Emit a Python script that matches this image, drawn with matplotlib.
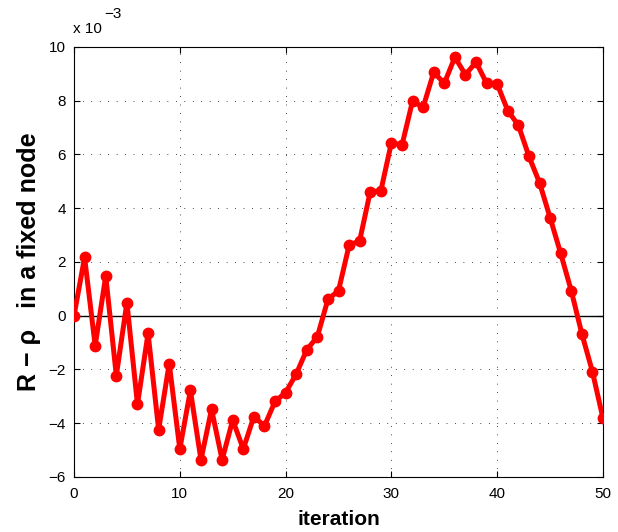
import matplotlib.pyplot as plt

# pyright: reportUnknownMemberType=false

plt.rcParams["font.family"] = ["Liberation Sans", "DejaVu Sans"]

# values in units of 1e-3
iteration = list(range(0, 51))
r_minus_rho = [
    0.0, 2.17, -1.11, 1.48, -2.23, 0.49, -3.30, -0.65, -4.24, -1.78,
    -4.96, -2.78, -5.36, -3.48, -5.36, -3.88, -4.96, -3.75, -4.10, -3.19,
    -2.86, -2.17, -1.27, -0.78, 0.61, 0.93, 2.62, 2.79, 4.62, 4.64,
    6.44, 6.35, 7.99, 7.76, 9.06, 8.65, 9.62, 8.97, 9.44, 8.65,
    8.62, 7.63, 7.09, 5.93, 4.95, 3.65, 2.32, 0.93, -0.67, -2.08,
    -3.82,
]
x_ticks = [0, 10, 20, 30, 40, 50]
y_ticks = [-6, -4, -2, 0, 2, 4, 6, 8, 10]

fig = plt.figure(figsize=(6.18, 5.32), dpi=100)
ax = fig.add_axes((74 / 618, 1 - 477 / 532, 529 / 618, 430 / 532))

ax.axhline(0, color="black", linewidth=1.0, zorder=2)
ax.plot(
    iteration,
    r_minus_rho,
    color="#ff0000",
    linewidth=3.6,
    marker="o",
    markersize=7.5,
    zorder=3,
)

ax.set_xlim(0, 50)
ax.set_ylim(-6, 10)
ax.set_xticks(x_ticks)
ax.set_yticks(y_ticks)
ax.tick_params(direction="in", top=True, right=True, labelsize=11, length=4, width=0.8)
ax.tick_params(axis="x", pad=7)
ax.tick_params(axis="y", pad=6)
ax.grid(True, color="black", linestyle=(0, (0.7, 8)), linewidth=0.7)
for spine in ax.spines.values():
    spine.set_linewidth(0.8)

ax.set_xlabel("iteration", fontsize=15, fontweight="bold", labelpad=7)
ax.set_ylabel("R − ρ   in a fixed node", fontsize=18, fontweight="bold", labelpad=5)

fig.text(73 / 618, 1 - 33 / 532, "x 10", fontsize=11, va="baseline")
fig.text(104 / 618, 1 - 18 / 532, "−3", fontsize=11, va="baseline")

fig.savefig("out.png", dpi=100)
